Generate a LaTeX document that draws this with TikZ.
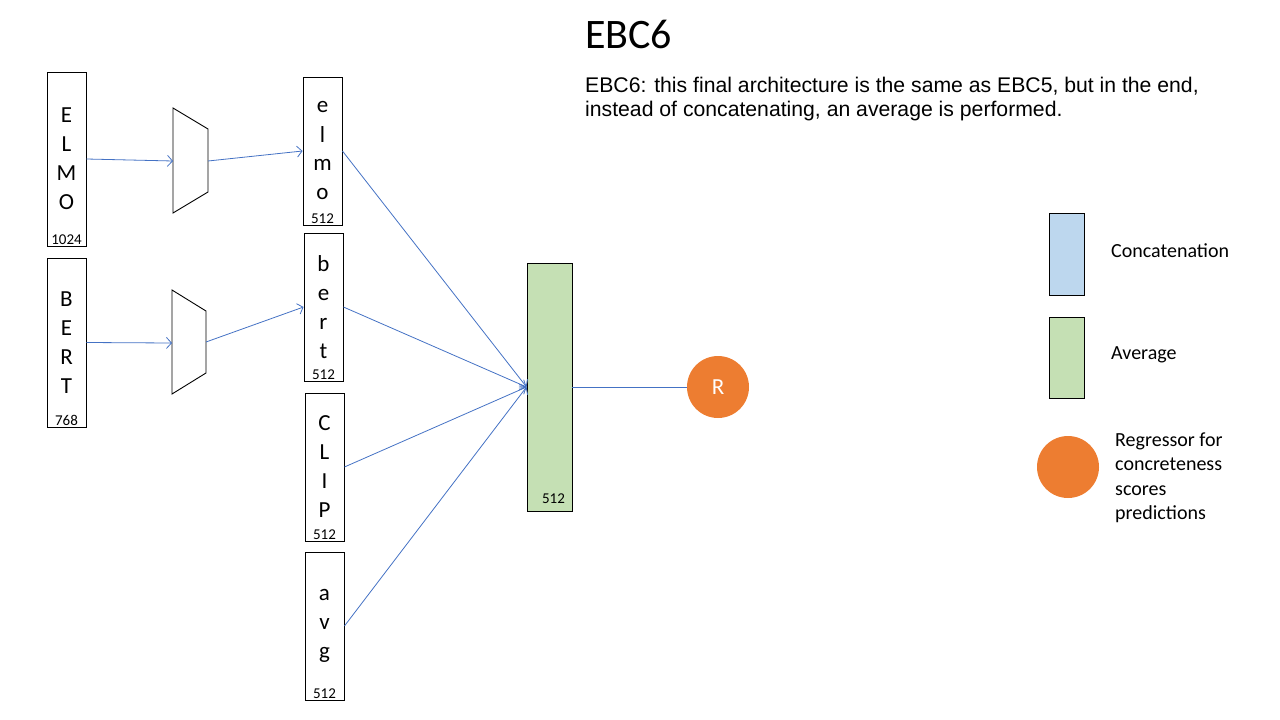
\documentclass[tikz,border=0pt]{standalone}
\usepackage{fontspec}
\setmainfont{Carlito}
\newfontfamily\arialfont{Liberation Sans}
\usetikzlibrary{positioning, arrows.meta}

\definecolor{linkblue}{HTML}{4472C4}
\definecolor{avggreen}{HTML}{C5E0B4}
\definecolor{catblue}{HTML}{BDD7EE}
\definecolor{regorange}{HTML}{ED7D31}

\tikzset{
    vecbox/.style={draw=black, line width=0.9pt, fill=white, minimum width=39pt,
                   inner sep=0pt, align=center, font=\fontsize{23}{29}\selectfont},
    dimnum/.style={anchor=south, inner sep=2pt, font=\fontsize{15}{15}\selectfont},
    link/.style={draw=linkblue, line width=0.8pt, -{Straight Barb[length=5pt, width=11pt]}},
    plainlink/.style={draw=linkblue, line width=0.8pt},
    reducer/.style={draw=black, line width=0.9pt},
    legtext/.style={anchor=west, inner sep=0pt, align=left, font=\fontsize{20}{24.5}\selectfont},
}

\begin{document}
\begin{tikzpicture}[x=1pt, y=-1pt]
    \useasboundingbox (0,0) rectangle (1280,720);

    % title and caption
    \node[anchor=base west, inner sep=0pt, font=\fontsize{42}{42}\selectfont] (title) at (585,48) {EBC6};
    \node[anchor=north west, inner sep=0pt, align=left, font=\arialfont\fontsize{21.2}{24}\selectfont] (caption) at (585,77)
        {EBC6: this final architecture is the same as EBC5, but in the end,\\
         instead of concatenating, an average is performed.};

    % input embeddings
    \node[vecbox, minimum height=174pt, label={[dimnum]south:1024}] (ELMO) at (66.5,159) {E\\L\\M\\O};
    \node[vecbox, minimum height=169pt, label={[dimnum]south:768}] (BERT) at (66.5,342.5) {B\\E\\R\\T};

    % reduction layers
    \draw[reducer] (173,108) -- (208,129) -- (208,192) -- (173,213) -- cycle;
    \coordinate (trapE-in) at (173,161);
    \coordinate (trapE-out) at (208,161);
    \draw[reducer] (172,290) -- (206,311) -- (206,373) -- (172,394) -- cycle;
    \coordinate (trapB-in) at (172,343);
    \coordinate (trapB-out) at (206,342);

    % 512-d vectors
    \node[vecbox, minimum height=148pt, label={[dimnum]south:512}] (elmo) at (322.5,151) {e\\l\\m\\o};
    \node[vecbox, minimum height=148pt, label={[dimnum]south:512}] (bert) at (323.5,307) {b\\e\\r\\t};
    \node[vecbox, minimum height=148pt, label={[dimnum]south:512}] (clip) at (324.5,467) {C\\L\\I\\P};
    \node[vecbox, minimum height=148pt, label={[dimnum]south:512}] (avg) at (324.5,626) {a\\v\\g};

    % average + regressor
    \node[draw=black, line width=0.9pt, fill=avggreen, minimum width=45pt, minimum height=248pt,
          label={[dimnum, xshift=4pt, yshift=6pt]south:512}] (average) at (549.5,387) {};
    \node[circle, fill=regorange, minimum size=62pt, inner sep=0pt, text=white,
          font=\fontsize{23}{23}\selectfont] (reg) at (718,387) {R};

    \draw[link] (ELMO.east) -- (trapE-in);
    \draw[link] (trapE-out) -- (elmo.west);
    \draw[link] (BERT.east) -- (trapB-in);
    \draw[link] (trapB-out) -- (bert.west);
    \draw[link] (elmo.east) -- (average.west);
    \draw[link] (bert.east) -- (average.west);
    \draw[link] (clip.east) -- (average.west);
    \draw[link] (avg.east) -- (average.west);
    \draw[plainlink] (average.east) -- (reg.west);

    % legend
    \node[draw=black, line width=0.9pt, fill=catblue, minimum width=35pt, minimum height=82pt] (legcat) at (1066.5,254) {};
    \node[legtext] (legcattext) at (1111,251) {Concatenation};
    \node[draw=black, line width=0.9pt, fill=avggreen, minimum width=35pt, minimum height=81pt] (legavg) at (1066.5,357.5) {};
    \node[legtext] (legavgtext) at (1111,355) {Average};
    \node[circle, fill=regorange, minimum size=62pt, inner sep=0pt] (legreg) at (1068,467) {};
    \node[legtext] (legregtext) at (1115,478) {Regressor for\\concreteness\\scores\\predictions};
\end{tikzpicture}
\end{document}
